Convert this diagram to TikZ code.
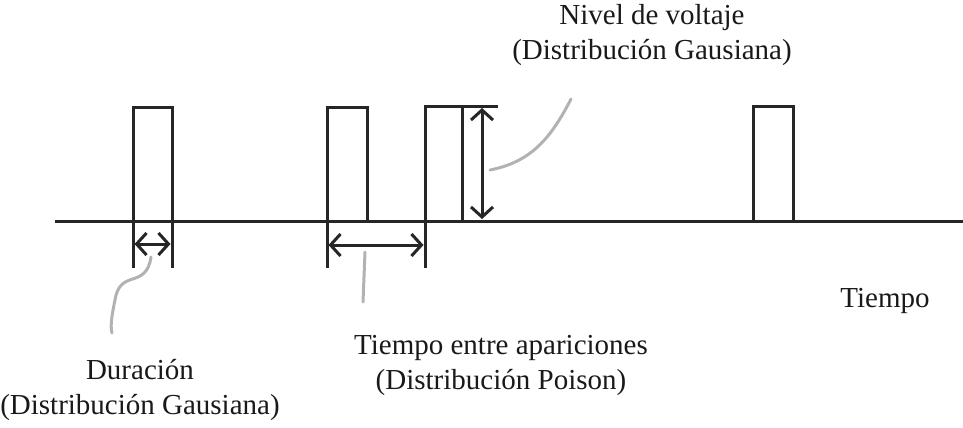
\documentclass[tikz,border=0pt]{standalone}
\usepackage{fontspec}
\setmainfont{Liberation Serif}
\usetikzlibrary{arrows.meta}
\begin{document}
\begin{tikzpicture}[x=1pt,y=-1pt,
  sig/.style={line width=3pt,draw=black!85,line join=miter},
  dim/.style={line width=3pt,draw=black!85,{Straight Barb[length=10pt,width=22pt,line width=3pt]}-{Straight Barb[length=10pt,width=22pt,line width=3pt]}},
  lead/.style={line width=3pt,draw=black!30,line cap=round},
  lbl/.style={font=\fontsize{29}{35}\selectfont,align=center,text=black!90,inner sep=0pt}]
\useasboundingbox (0,0) rectangle (963,428);
% axis
\draw[sig] (55,221) -- (963,221);
% pulses
\draw[sig] (133,221) -- (133,107) -- (172,107) -- (172,221);
\draw[sig] (327,221) -- (327,107) -- (367,107) -- (367,221);
\draw[sig] (425,221) -- (425,106) -- (498,106);
\draw[sig] (462,106) -- (462,221);
\draw[sig] (753,221) -- (753,106) -- (793,106) -- (793,221);
% extension lines
\draw[sig] (133,221) -- (133,268);
\draw[sig] (172,221) -- (172,268);
\draw[sig] (327,221) -- (327,268);
\draw[sig] (425,221) -- (425,268);
% dimension arrows
\coordinate (d1a) at (134.5,244);
\coordinate (d1b) at (170.5,244);
\coordinate (d2a) at (328.5,245);
\coordinate (d2b) at (423.5,245);
\coordinate (d3a) at (482,108);
\coordinate (d3b) at (482,219);
\draw[dim] (d1a) -- (d1b);
\draw[dim] (d2a) -- (d2b);
\draw[dim] (d3a) -- (d3b);
% labels
\node[lbl] (nivel) at (652,35) {Nivel de voltaje\\(Distribución Gausiana)};
\node[lbl] (tiempo) at (885,301) {Tiempo};
\node[lbl] (entre) at (501,365) {Tiempo entre apariciones\\(Distribución Poison)};
\node[lbl] (durac) at (140,390) {Duración\\(Distribución Gausiana)};
% leader lines
\coordinate (l1s) at (151,257);
\coordinate (l1e) at (112,333);
\draw[lead] (l1s) .. controls (146,290) and (120,268) .. (115,300) .. controls (112,315) and (110,325) .. (l1e);
\coordinate (l2s) at (365,252);
\coordinate (l2e) at (363,302);
\draw[lead] (l2s) -- (l2e);
\coordinate (l3s) at (490,170);
\coordinate (l3e) at (571,99);
\draw[lead] (l3s) .. controls (530,162) and (550,140) .. (l3e);
\end{tikzpicture}
\end{document}
